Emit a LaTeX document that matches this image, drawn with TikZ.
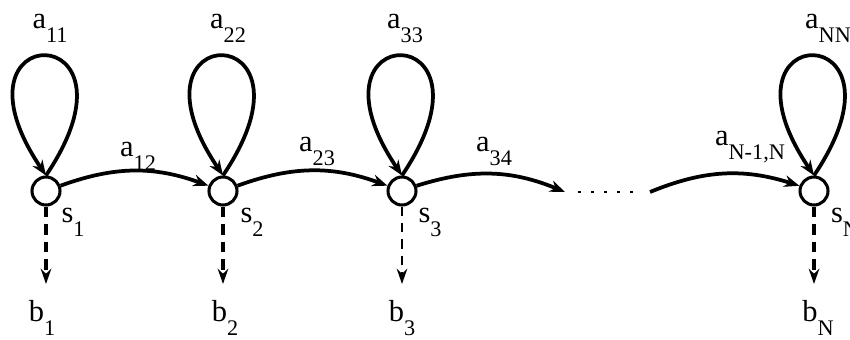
\documentclass[tikz,border=0pt]{standalone}
\usepackage{fontspec}
\setmainfont{Liberation Serif}
\newfontfamily\lblfont{Liberation Serif}
\usetikzlibrary{arrows.meta}
\newcommand{\idx}[2]{#1\raisebox{-12pt}{\fontsize{19}{20}\selectfont #2}}

\begin{document}
\begin{tikzpicture}[x=0.03cm, y=-0.03cm,
  st/.style={draw, circle, line width=2.6pt, minimum size=0.84cm, inner sep=0pt},
  arr/.style={-{Stealth[length=13pt,width=10pt]}, line width=3.2pt},
  emit/.style={-{Stealth[length=13pt,width=9pt]}, line width=3.2pt, dash pattern=on 9pt off 6pt},
  lbl/.style={font=\lblfont\fontsize{26}{28}\selectfont, inner sep=0pt}
]
  \useasboundingbox (0,0) rectangle (850,339);

  % states
  \node[st] (s1) at (46,191) {};
  \node[st] (s2) at (223,191) {};
  \node[st] (s3) at (402,191) {};
  \node[st] (sN) at (814,191) {};

  % self transitions
  \draw[arr] (s1.north) to[out=56, in=124, distance=5.76cm] (s1.north);
  \draw[arr] (s2.north) to[out=56, in=124, distance=5.76cm] (s2.north);
  \draw[arr] (s3.north) to[out=56, in=124, distance=5.76cm] (s3.north);
  \draw[arr] (sN.north) to[out=56, in=124, distance=5.76cm] (sN.north);

  % forward transitions
  \coordinate (e3) at (565,192);
  \coordinate (d1) at (578,192);
  \coordinate (d2) at (640,192);
  \coordinate (eN) at (650,192);
  \draw[arr] (s1) to[bend left=20] (s2);
  \draw[arr] (s2) to[bend left=20] (s3);
  \draw[arr] (s3) to[bend left=20] (e3);
  \draw[line width=2.2pt, dash pattern=on 2.2pt off 9pt] (d1) -- (d2);
  \draw[arr] (eN) to[bend left=20] (sN);

  % outputs
  \coordinate (o1) at (46,284);
  \coordinate (o2) at (223,284);
  \coordinate (o3) at (402,284);
  \coordinate (oN) at (814,284);
  \draw[emit] (s1) -- (o1);
  \draw[emit] (s2) -- (o2);
  \draw[emit, line width=1.5pt, dash pattern=on 8pt off 6pt] (s3) -- (o3);
  \draw[emit] (sN) -- (oN);

  % labels
  \node[lbl] (l11) at (50,28)   {\idx{a}{11}};
  \node[lbl] (l22) at (228,28)  {\idx{a}{22}};
  \node[lbl] (l33) at (405,28)  {\idx{a}{33}};
  \node[lbl] (lNN) at (828,28)  {\idx{a}{NN}};
  \node[lbl] (l12) at (138,156) {\idx{a}{12}};
  \node[lbl] (l23) at (317,151) {\idx{a}{23}};
  \node[lbl] (l34) at (494,151) {\idx{a}{34}};
  \node[lbl] (lN)  at (750,147) {\idx{a}{N-1,N}};
  \node[lbl] (n1) at (73,222)  {\idx{s}{1}};
  \node[lbl] (n2) at (252,222) {\idx{s}{2}};
  \node[lbl] (n3) at (430,222) {\idx{s}{3}};
  \node[lbl] (nN) at (845,222) {\idx{s}{N}};
  \node[lbl] (b1) at (42,318)  {\idx{b}{1}};
  \node[lbl] (b2) at (225,318) {\idx{b}{2}};
  \node[lbl] (b3) at (402,318) {\idx{b}{3}};
  \node[lbl] (bN) at (818,318) {\idx{b}{N}};
\end{tikzpicture}
\end{document}
